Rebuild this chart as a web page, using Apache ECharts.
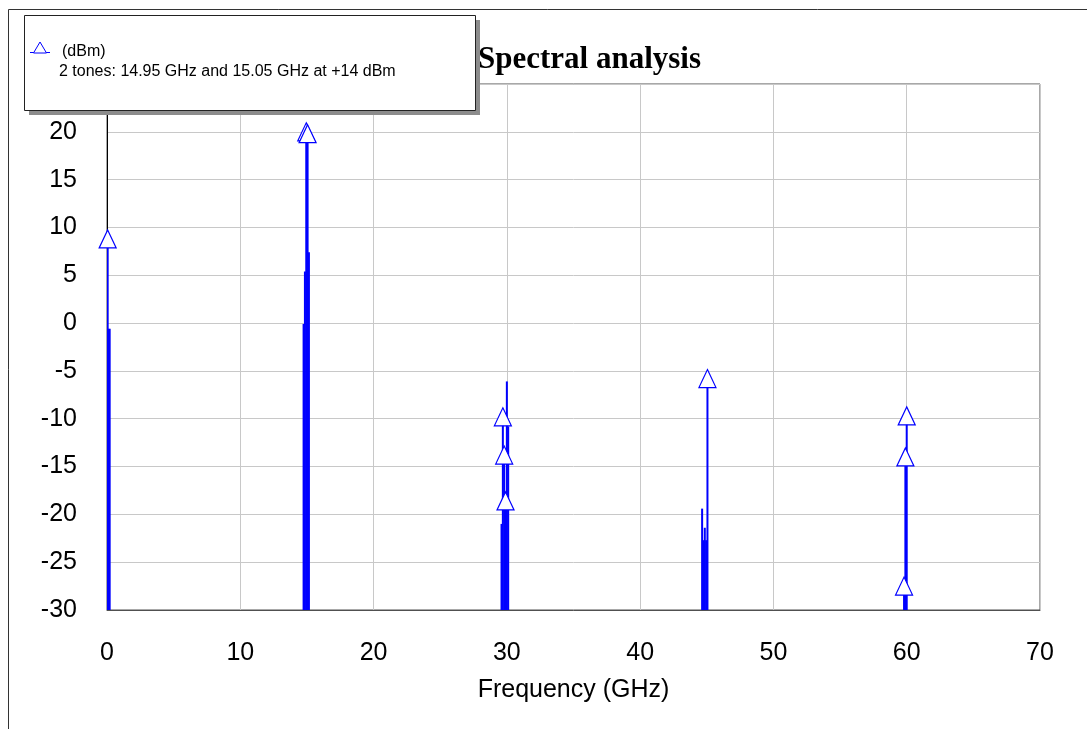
<!DOCTYPE html>
<html>
<head>
<meta charset="utf-8">
<script src="https://cdn.jsdelivr.net/npm/echarts@6/dist/echarts.min.js"></script>
<style>
html,body{margin:0;padding:0;background:#fff;}
#chart{width:1087px;height:729px;}
</style>
</head>
<body>
<div id="chart"></div>
<script>
// ---- data ----
const titleText = 'Spectral analysis';
const xName = 'Frequency (GHz)';
const legendName = '(dBm)';
const legendNote = '2 tones: 14.95 GHz and 15.05 GHz at +14 dBm';

// spectral lines (GHz, dBm)
const stemFreqs  = [0.05, 0.1, 0.2,
                    14.75, 14.85, 14.95, 15.05, 15.15,
                    29.6, 29.7, 29.8, 29.9, 30.0, 30.1,
                    44.65, 44.75, 44.85, 44.95, 45.05,
                    59.8, 59.9, 60.0];
const stemLevels = [8.8, -0.6, -0.6,
                    -0.1, 5.4, 20.0, 19.8, 7.4,
                    -21.0, -9.8, -13.8, -18.6, -6.1, -10.8,
                    -19.4, -22.7, -21.4, -22.7, -5.8,
                    -27.5, -14.0, -9.7];

// marker (triangle) points
const markerFreqs  = [0.05, 14.95, 15.05, 29.7, 29.8, 29.9, 45.05, 59.8, 59.9, 60.0];
const markerLevels = [8.8, 20.0, 19.8, -9.8, -13.8, -18.6, -5.8, -27.5, -14.0, -9.7];

const xMin = 0, xMax = 70, xStep = 10;
const yMin = -30, yMax = 25, yStep = 5;

const blue = '#0000ff';
const stemData = stemFreqs.map((f, i) => [f, stemLevels[i]]);
const markerData = markerFreqs.map((f, i) => [f, markerLevels[i]]);

const chart = echarts.init(document.getElementById('chart'), null, {renderer: 'canvas'});
chart.setOption({
  backgroundColor: '#fff',
  animation: false,
  title: {
    text: titleText,
    left: 478, top: 44, padding: 0,
    textStyle: {fontFamily: 'Liberation Serif', fontWeight: 'bold', fontSize: 31, color: '#000'}
  },
  grid: {
    left: 107, top: 84, right: 47, bottom: 119,
    show: true, borderColor: '#505050', borderWidth: 1, backgroundColor: '#fff'
  },
  xAxis: {
    type: 'value', min: xMin, max: xMax, interval: xStep,
    name: xName, nameLocation: 'middle', nameGap: 68,
    nameTextStyle: {fontFamily: 'Liberation Sans', fontSize: 25, color: '#000'},
    axisLine: {show: true, onZero: false, lineStyle: {color: '#505050', width: 1}},
    axisTick: {show: false},
    axisLabel: {margin: 31, fontFamily: 'Liberation Sans', fontSize: 25, color: '#000'},
    splitLine: {show: true, lineStyle: {color: '#c8c8c8', width: 1}}
  },
  yAxis: {
    type: 'value', min: yMin, max: yMax, interval: yStep,
    axisLine: {show: true, onZero: false, lineStyle: {color: '#000', width: 1}},
    axisTick: {show: false},
    axisLabel: {margin: 30, showMaxLabel: false, fontFamily: 'Liberation Sans', fontSize: 25, color: '#000'},
    splitLine: {show: true, lineStyle: {color: '#c8c8c8', width: 1}}
  },
  series: [
    {
      type: 'custom',
      name: 'lines',
      data: stemData,
      z: 3,
      clip: true,
      renderItem: function (params, api) {
        const x = api.value(0), y = api.value(1);
        const top = api.coord([x, y]);
        const bot = api.coord([x, yMin]);
        return {
          type: 'line',
          shape: {x1: top[0], y1: top[1], x2: bot[0], y2: bot[1]},
          style: {stroke: blue, lineWidth: 2}
        };
      }
    },
    {
      type: 'scatter',
      name: legendName,
      data: markerData,
      z: 4,
      symbol: 'triangle',
      symbolSize: [17, 18],
      itemStyle: {color: '#fff', borderColor: blue, borderWidth: 1.2, opacity: 1}
    }
  ],
  graphic: [
    // outer frame
    {type: 'line', shape: {x1: 8.5, y1: 9.5, x2: 1087, y2: 9.5}, style: {stroke: '#333', lineWidth: 1}, z: 1},
    {type: 'line', shape: {x1: 8.5, y1: 9.5, x2: 8.5, y2: 729}, style: {stroke: '#333', lineWidth: 1}, z: 1},
    // legend box with shadow
    {type: 'rect', shape: {x: 29, y: 20, width: 451, height: 95}, style: {fill: '#8c8c8c'}, z: 50},
    {type: 'rect', shape: {x: 24.5, y: 15.5, width: 451, height: 95}, style: {fill: '#fff', stroke: '#222', lineWidth: 1}, z: 51},
    {type: 'line', shape: {x1: 30, y1: 52.5, x2: 50, y2: 52.5}, style: {stroke: blue, lineWidth: 1}, z: 52},
    {type: 'polygon', shape: {points: [[40, 42], [46.5, 53], [33.5, 53]]}, style: {fill: '#fff', stroke: blue, lineWidth: 1}, z: 53},
    {type: 'text', x: 62, y: 52, style: {text: legendName, fontFamily: 'Liberation Sans', fontSize: 16, fill: '#000', textVerticalAlign: 'middle'}, z: 53},
    {type: 'text', x: 59, y: 72, style: {text: legendNote, fontFamily: 'Liberation Sans', fontSize: 16, fill: '#000', textVerticalAlign: 'middle'}, z: 53}
  ]
});
</script>
</body>
</html>
